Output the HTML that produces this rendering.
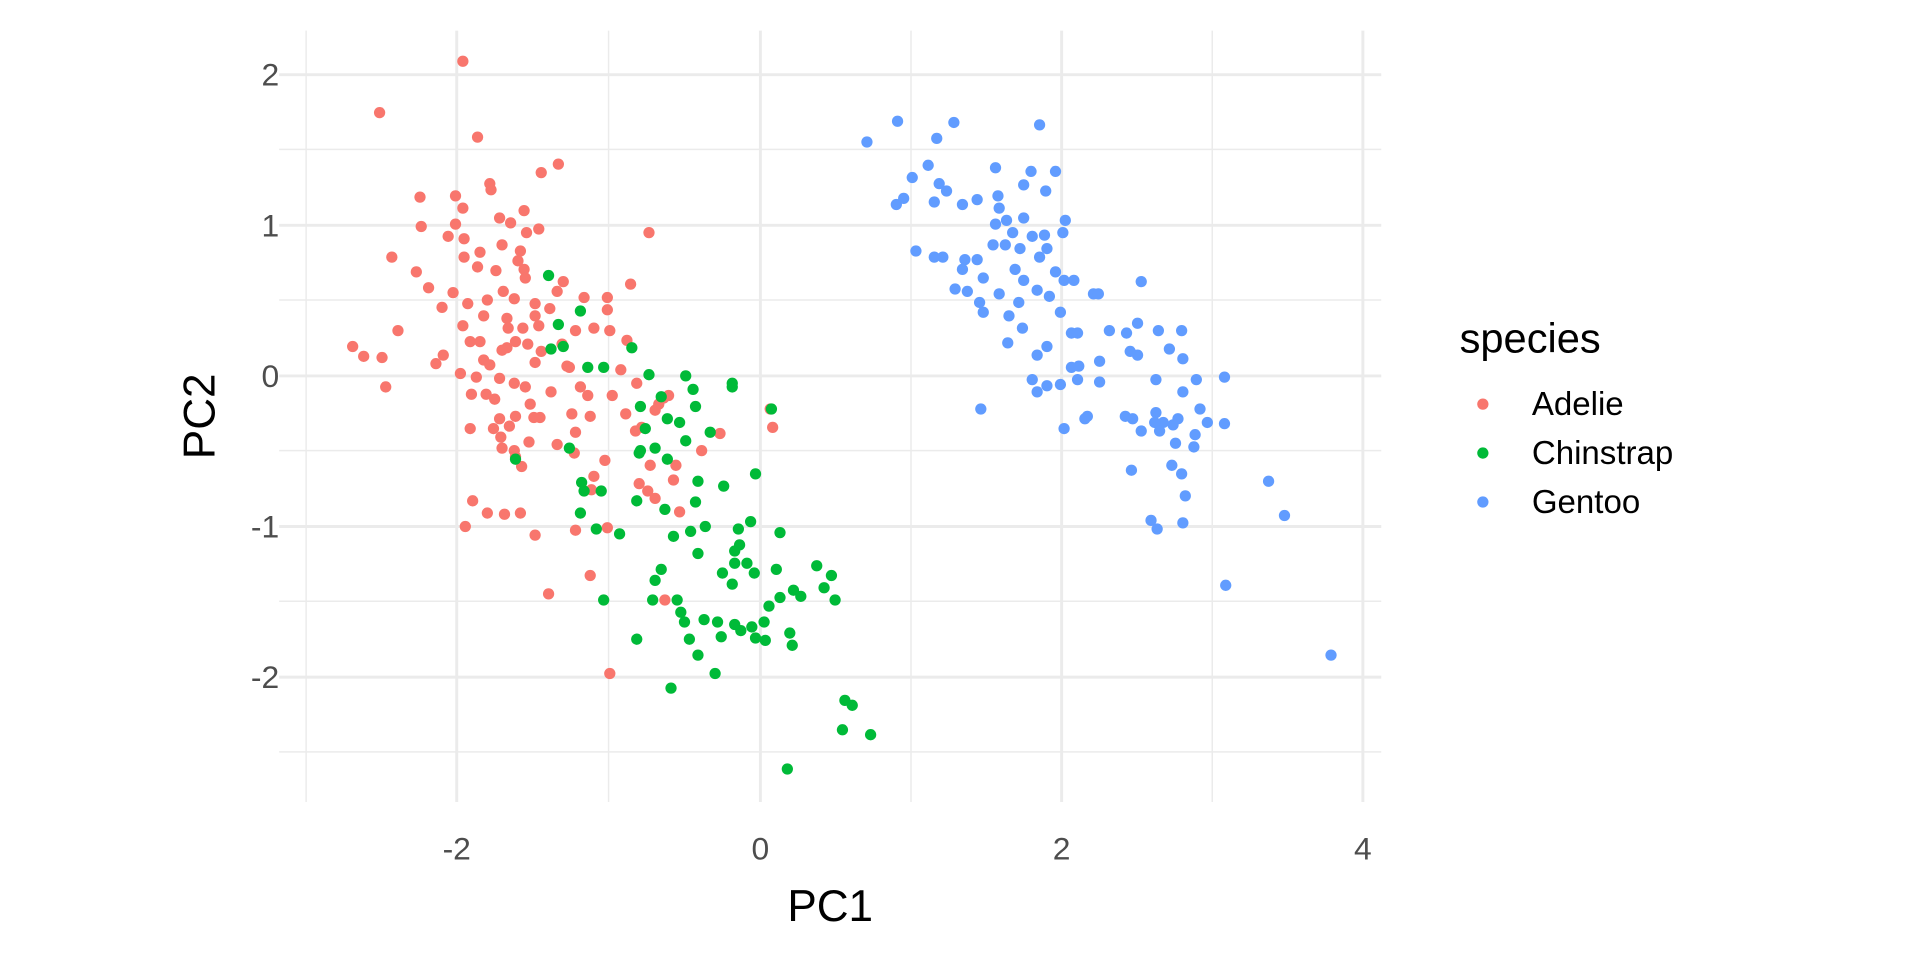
<!DOCTYPE html>
<html><head><meta charset="utf-8"><style>html,body{margin:0;padding:0;background:#fff;}svg{display:block}</style></head>
<body>
<svg width="1920" height="960" viewBox="0 0 1568 784" xmlns="http://www.w3.org/2000/svg" font-family="Liberation Sans, sans-serif">
<rect width="1568" height="784" fill="#fff"/>
<g stroke="#ebebeb" stroke-width="1.2">
<line x1="250" y1="25" x2="250" y2="655"/><line x1="497" y1="25" x2="497" y2="655"/><line x1="744" y1="25" x2="744" y2="655"/><line x1="990" y1="25" x2="990" y2="655"/>
<line x1="228" y1="122" x2="1128" y2="122"/><line x1="228" y1="245" x2="1128" y2="245"/><line x1="228" y1="368" x2="1128" y2="368"/><line x1="228" y1="491" x2="1128" y2="491"/><line x1="228" y1="614" x2="1128" y2="614"/>
</g>
<g stroke="#ebebeb" stroke-width="2.4">
<line x1="373" y1="25" x2="373" y2="655"/><line x1="621" y1="25" x2="621" y2="655"/><line x1="867" y1="25" x2="867" y2="655"/><line x1="1113" y1="25" x2="1113" y2="655"/>
<line x1="228" y1="61" x2="1128" y2="61"/><line x1="228" y1="184" x2="1128" y2="184"/><line x1="228" y1="307" x2="1128" y2="307"/><line x1="228" y1="430" x2="1128" y2="430"/><line x1="228" y1="553" x2="1128" y2="553"/>
</g>
<g font-size="26" fill="#4d4d4d" text-anchor="end">
<text x="228" y="70">2</text><text x="228" y="193">1</text><text x="228" y="316">0</text><text x="228" y="439">-1</text><text x="228" y="562">-2</text>
</g>
<g font-size="26" fill="#4d4d4d" text-anchor="middle">
<text x="373" y="702">-2</text><text x="621" y="702">0</text><text x="867" y="702">2</text><text x="1113" y="702">4</text>
</g>
<text x="678" y="752" font-size="36" text-anchor="middle" fill="#000">PC1</text>
<text transform="translate(175,340) rotate(-90)" font-size="36" text-anchor="middle" fill="#000">PC2</text>
<g id="pts"></g>
<text x="1192" y="288" font-size="34" fill="#000">species</text>
<circle cx="1211" cy="330" r="4.6" fill="#F8766D"/><circle cx="1211" cy="370" r="4.6" fill="#00BA38"/><circle cx="1211" cy="410" r="4.6" fill="#619CFF"/>
<g font-size="27" fill="#000"><text x="1251" y="339">Adelie</text><text x="1251" y="379">Chinstrap</text><text x="1251" y="419">Gentoo</text></g>
</svg>
<script>
var R=[[378,50],[310,92],[390,112],[456,134],[343,161],[372,160],[400,150],[401,155],[442,141],[344,185],[378,170],[372,183],[408,178],[417,182],[440,187],[428,172],[530,190],[320,210],[340,222],[350,235],[366,193],[379,195],[379,210],[392,206],[410,200],[390,218],[405,221],[423,213],[428,220],[430,190],[425,205],[429,227],[411,238],[398,245],[370,239],[382,248],[395,258],[414,260],[420,244],[437,248],[449,252],[455,238],[460,230],[477,243],[496,243],[496,253],[515,232],[437,258],[415,268],[427,268],[440,266],[325,270],[297,291],[288,283],[361,251],[378,266],[384,279],[392,279],[414,284],[421,279],[431,281],[362,290],[356,297],[395,294],[410,286],[442,287],[470,270],[498,270],[512,278],[459,281],[465,300],[485,268],[437,296],[400,298],[408,309],[389,308],[376,305],[385,322],[384,350],[397,322],[404,326],[420,313],[429,316],[433,330],[436,341],[450,320],[463,299],[474,316],[480,323],[500,323],[507,302],[520,313],[538,330],[542,325],[535,335],[546,323],[524,349],[519,352],[511,338],[482,340],[467,338],[470,353],[455,363],[441,341],[432,361],[421,340],[408,342],[409,357],[416,348],[403,350],[420,368],[421,373],[426,381],[410,366],[469,370],[485,389],[483,400],[494,376],[531,380],[522,395],[552,380],[573,368],[588,354],[631,349],[629,334],[550,392],[437,437],[470,433],[482,470],[496,431],[529,401],[535,407],[555,418],[543,490],[498,550],[448,485],[425,419],[398,419],[386,409],[380,430],[412,420],[315,316],[312,292]];
var G=[[448,225],[474,254],[456,265],[450,285],[460,283],[493,300],[516,284],[530,306],[560,307],[598,313],[598,316],[540,324],[566,318],[568,332],[545,342],[523,332],[527,350],[523,368],[535,366],[522,370],[555,345],[560,360],[545,375],[580,353],[630,334],[617,387],[613,426],[591,397],[568,410],[570,393],[550,438],[564,434],[543,416],[520,409],[475,394],[491,401],[487,432],[506,436],[493,490],[477,401],[421,375],[540,465],[533,490],[553,490],[576,430],[570,452],[603,432],[604,445],[600,460],[590,468],[598,477],[637,435],[634,465],[637,488],[628,495],[624,508],[648,482],[654,487],[673,480],[682,490],[667,462],[679,470],[605,515],[614,512],[617,521],[625,523],[647,527],[645,517],[586,508],[575,506],[520,522],[570,535],[584,550],[548,562],[690,572],[696,576],[688,596],[711,600],[643,628],[535,474],[465,366],[474,419],[480,300],[610,460],[600,450],[616,468],[556,500],[559,508],[563,522],[589,520],[600,510]];
var B=[[708,116],[733,99],[765,113],[779,100],[849,102],[758,135],[767,150],[732,167],[738,162],[745,145],[763,165],[773,156],[786,167],[798,163],[815,160],[816,170],[813,183],[811,200],[822,180],[836,178],[813,137],[842,140],[862,140],[827,190],[843,193],[853,192],[868,190],[849,210],[855,203],[862,222],[847,237],[829,220],[832,247],[824,258],[835,268],[823,280],[803,255],[800,247],[790,238],[780,236],[788,212],[798,212],[770,210],[748,205],[763,210],[836,229],[857,242],[869,229],[877,229],[893,240],[897,240],[866,255],[875,272],[855,283],[847,290],[875,300],[880,310],[881,299],[906,270],[880,272],[920,272],[932,230],[929,264],[946,270],[965,270],[929,290],[923,287],[955,285],[966,293],[944,310],[966,320],[977,310],[1000,308],[919,340],[925,342],[944,337],[950,345],[958,347],[962,342],[943,345],[932,352],[947,352],[957,380],[965,387],[976,355],[975,365],[960,362],[980,334],[986,345],[968,405],[924,384],[898,295],[898,312],[866,314],[888,340],[886,342],[869,350],[843,310],[847,320],[855,315],[801,334],[821,200],[836,151],[854,156],[1000,346],[1036,393],[1049,421],[1001,478],[1087,535],[940,425],[945,432],[966,427],[870,180],[786,220],[803,227],[816,240],[833,203]];
var g=document.getElementById('pts'),s='';
function add(a,c){a.forEach(function(p){s+='<circle cx="'+p[0]+'" cy="'+p[1]+'" r="4.6" fill="'+c+'"/>';});}
add(R,'#F8766D');add(G,'#00BA38');add(B,'#619CFF');
g.innerHTML=s;
</script>
</body></html>
